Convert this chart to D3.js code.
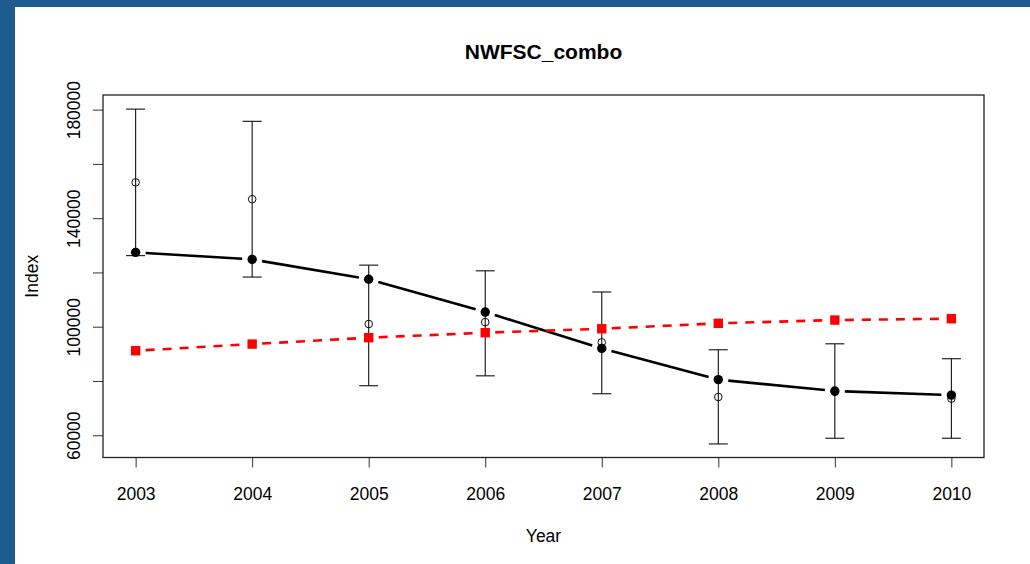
<!DOCTYPE html>
<html lang="en">
  <head>
    <meta charset="utf-8">
    <title>NWFSC_combo</title>
    <script src="https://cdn.jsdelivr.net/npm/d3@7"></script>
    <style>
      body { margin: 0; background: #1e5b8e; }
      svg { display: block; }
      text { font-family: "Liberation Sans", Arial, sans-serif; fill: #000; }
    </style>
  </head>
  <body>
    <script>
      // values
      const years    = [2003, 2004, 2005, 2006, 2007, 2008, 2009, 2010];
      const observed = [153200, 147000, 101000, 101700, 94250, 74100, 76000, 73500];
      const lower    = [126200, 118300, 78250, 81900, 75300, 56800, 58900, 58900];
      const upper    = [180200, 175700, 122700, 120600, 112800, 91500, 93700, 88200];
      const fitBlack = [127400, 124800, 117500, 105400, 92000, 80500, 76300, 74800];
      const fitRed   = [91150, 93600, 95950, 97800, 99250, 101250, 102450, 102950];
      const yTicks   = [60000, 80000, 100000, 120000, 140000, 160000, 180000];
      const yLabels  = [60000, 100000, 140000, 180000];

      const W = 1030, H = 564;
      const LEFT = 103, RIGHT = 984, TOP = 95, BOTTOM = 457.5;
      const GAP = 10; // type="b" gap round each point

      var svg = d3.select("body").append("svg")
        .attr("width", W)
        .attr("height", H);

      // white panel inside the blue frame
      svg.append("rect")
        .attr("x", 15).attr("y", 7)
        .attr("width", W - 15).attr("height", H - 7)
        .attr("fill", "#fff");

      var x = d3.scaleLinear().domain([2003 - 0.28, 2010 + 0.28]).range([LEFT, RIGHT]);
      var y = d3.scaleLinear().domain([51800, 185400]).range([BOTTOM, TOP]);

      // axes
      var xAxis = svg.append("g")
        .attr("transform", "translate(0," + BOTTOM + ")")
        .call(d3.axisBottom(x).tickValues(years).tickFormat(d3.format("d"))
          .tickSize(10).tickSizeOuter(0));
      xAxis.select(".domain").remove();
      xAxis.selectAll("line").attr("stroke", "#333");
      xAxis.selectAll("text")
        .attr("y", 42).attr("dy", 0)
        .style("font-size", "17.5px")
        .style("font-family", '"Liberation Sans", Arial, sans-serif');

      var yAxis = svg.append("g")
        .attr("transform", "translate(" + LEFT + ",0)")
        .call(d3.axisLeft(y).tickValues(yTicks)
          .tickFormat(d => yLabels.includes(d) ? d : "")
          .tickSize(10).tickSizeOuter(0));
      yAxis.select(".domain").remove();
      yAxis.selectAll("line").attr("stroke", "#333");
      yAxis.selectAll("text")
        .attr("transform", "rotate(-90)")
        .attr("x", 0).attr("y", -23).attr("dy", 0)
        .attr("text-anchor", "middle")
        .style("font-size", "17.5px")
        .style("font-family", '"Liberation Sans", Arial, sans-serif');

      // plot box
      svg.append("rect")
        .attr("x", LEFT).attr("y", TOP)
        .attr("width", RIGHT - LEFT).attr("height", BOTTOM - TOP)
        .attr("fill", "none")
        .attr("stroke", "#222")
        .attr("stroke-width", 1.3);

      // titles
      svg.append("text")
        .attr("x", (LEFT + RIGHT) / 2).attr("y", 59)
        .attr("text-anchor", "middle")
        .style("font-size", "21px")
        .style("font-weight", "bold")
        .text("NWFSC_combo");

      svg.append("text")
        .attr("x", (LEFT + RIGHT) / 2).attr("y", 542)
        .attr("text-anchor", "middle")
        .style("font-size", "17.5px")
        .text("Year");

      svg.append("text")
        .attr("transform", "translate(38," + (TOP + BOTTOM) / 2 + ") rotate(-90)")
        .attr("text-anchor", "middle")
        .style("font-size", "17.5px")
        .text("Index");

      // error bars
      var bars = svg.append("g").attr("stroke", "#111").attr("stroke-width", 1.1);
      years.forEach(function(yr, i) {
        bars.append("line")
          .attr("x1", x(yr)).attr("x2", x(yr))
          .attr("y1", y(lower[i])).attr("y2", y(upper[i]));
        [lower[i], upper[i]].forEach(function(v) {
          bars.append("line")
            .attr("x1", x(yr) - 9.5).attr("x2", x(yr) + 9.5)
            .attr("y1", y(v)).attr("y2", y(v));
        });
      });

      // observed values, open circles
      svg.append("g").selectAll("circle")
        .data(years)
        .join("circle")
        .attr("cx", d => x(d))
        .attr("cy", (d, i) => y(observed[i]))
        .attr("r", 3.8)
        .attr("fill", "none")
        .attr("stroke", "#111")
        .attr("stroke-width", 1);

      // line with gaps round the points, like R type="b"
      function gappedLine(vals, color, dash) {
        var g = svg.append("g")
          .attr("stroke", color)
          .attr("stroke-width", 2.6)
          .attr("fill", "none");
        for (var i = 0; i < years.length - 1; i++) {
          var x0 = x(years[i]), y0 = y(vals[i]);
          var x1 = x(years[i + 1]), y1 = y(vals[i + 1]);
          var len = Math.hypot(x1 - x0, y1 - y0);
          var ux = (x1 - x0) / len, uy = (y1 - y0) / len;
          var seg = g.append("line")
            .attr("x1", x0 + ux * GAP).attr("y1", y0 + uy * GAP)
            .attr("x2", x1 - ux * GAP).attr("y2", y1 - uy * GAP);
          if (dash) seg.attr("stroke-dasharray", dash);
        }
      }

      gappedLine(fitBlack, "#000", null);
      svg.append("g").selectAll("circle")
        .data(years)
        .join("circle")
        .attr("cx", d => x(d))
        .attr("cy", (d, i) => y(fitBlack[i]))
        .attr("r", 4.7)
        .attr("fill", "#000");

      gappedLine(fitRed, "#ff0000", "9,8");
      svg.append("g").selectAll("rect")
        .data(years)
        .join("rect")
        .attr("x", d => x(d) - 4.7)
        .attr("y", (d, i) => y(fitRed[i]) - 4.7)
        .attr("width", 9.4)
        .attr("height", 9.4)
        .attr("fill", "#ff0000");
    </script>
  </body>
</html>
